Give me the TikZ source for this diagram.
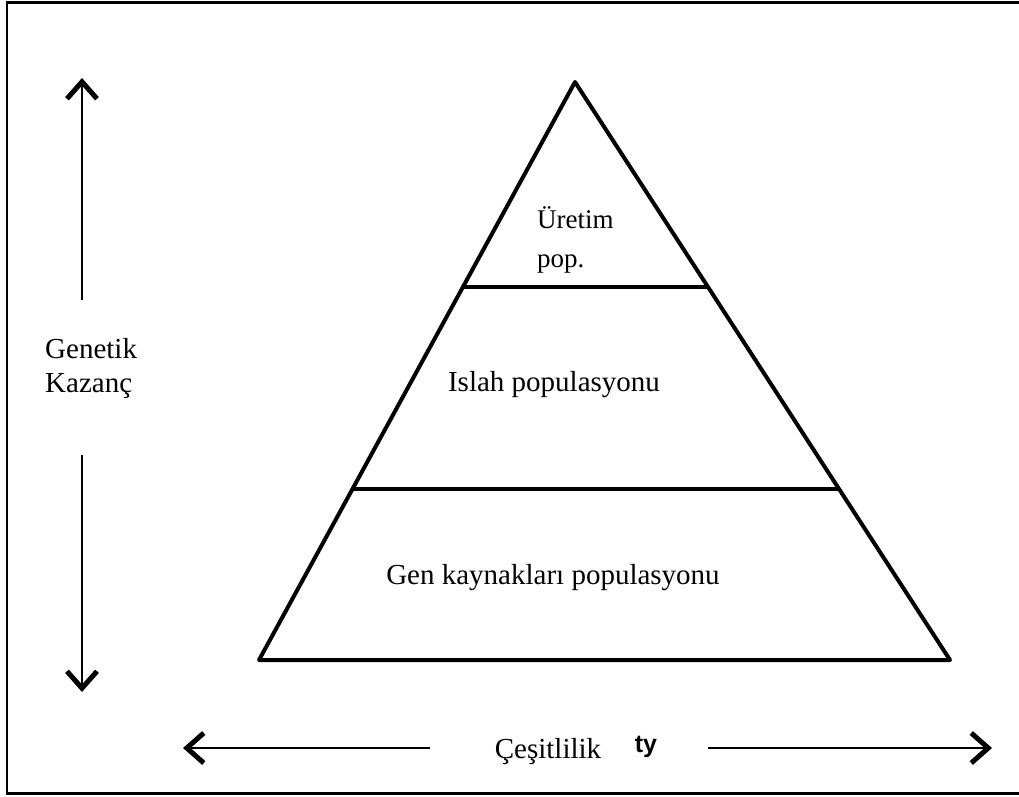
\documentclass[tikz,border=0pt]{standalone}
\usepackage{fontspec}
\setmainfont{Liberation Serif}
\newfontfamily\tyfont{Liberation Sans}
\usetikzlibrary{arrows.meta,positioning}

\begin{document}
\begin{tikzpicture}[x=1pt, y=-1pt, font=\rmfamily\fontsize{29}{34}\selectfont,
  edge/.style={line width=4pt, line join=round},
  axis/.style={line width=2.5pt,
               -{Straight Barb[length=17pt,width=30pt,line width=5pt]}},
  lbl/.style={inner sep=0pt, align=left}]

\useasboundingbox (0,0) rectangle (1019,796);
\draw[line width=2.5pt] (1030,2.5) -- (7,2.5) -- (7,793.5) -- (1030,793.5);

% piramit
\coordinate (top) at (575,82);
\coordinate (bl)  at (259,660);
\coordinate (br)  at (950,660);
\coordinate (l1)  at (463,287);
\coordinate (r1)  at (708,287);
\coordinate (l2)  at (353,489);
\coordinate (r2)  at (839,489);
\draw[edge] (top) -- (bl) -- (br) -- cycle;
\draw[edge] (l1) -- (r1);
\draw[edge] (l2) -- (r2);

% katmanlar
\node[lbl, font=\rmfamily\fontsize{27}{39}\selectfont, anchor=north west] (prod) at (537,206) {Üretim\\pop.};
\node (breed) at (554,385) {Islah populasyonu};
\node (gene)  at (553,578) {Gen kaynakları populasyonu};

% eksenler
\node[lbl, anchor=north west] (gain) at (45,338) {Genetik\\Kazanç};
\node (div) at (548,752) {Çeşitlilik};
\node[font=\tyfont\bfseries\fontsize{25}{28}\selectfont] (ty) at (646,747) {ty};

\coordinate (up0) at (82,300);  \coordinate (up1) at (82,78);
\coordinate (dn0) at (82,455);  \coordinate (dn1) at (82,692);
\coordinate (lf0) at (430,748); \coordinate (lf1) at (183,748);
\coordinate (rt0) at (708,748); \coordinate (rt1) at (992,748);
\draw[axis] (up0) -- (up1);
\draw[axis] (dn0) -- (dn1);
\draw[axis] (lf0) -- (lf1);
\draw[axis] (rt0) -- (rt1);
\end{tikzpicture}
\end{document}
